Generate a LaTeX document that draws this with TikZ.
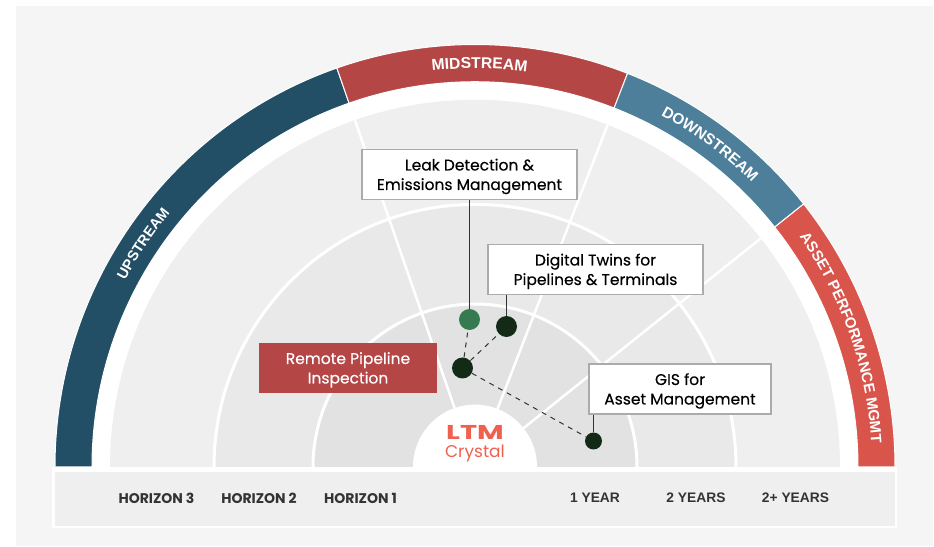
\documentclass[tikz,border=0pt]{standalone}
\usepackage{fontspec}
\setmainfont{Poppins}
\newfontfamily\medfont[FakeBold=0.3]{Poppins}
\newfontfamily\logofont[FakeStretch=1.45]{Poppins}
\newfontfamily\bandfont{Liberation Sans}
\usetikzlibrary{positioning, decorations.text}
\definecolor{pagegrey}{HTML}{F5F5F5}
\definecolor{ringone}{HTML}{E2E2E2}
\definecolor{ringtwo}{HTML}{E9E9E9}
\definecolor{ringthree}{HTML}{EFEFEF}
\definecolor{upstreamblue}{HTML}{224F66}
\definecolor{midstreamred}{HTML}{B54646}
\definecolor{downstreamblue}{HTML}{4D7F9A}
\definecolor{assetred}{HTML}{D9544A}
\definecolor{logored}{HTML}{F0604F}
\definecolor{dotdark}{HTML}{122A16}
\definecolor{dotgreen}{HTML}{367A52}
\definecolor{labeldark}{HTML}{333333}
\tikzset{
    bandsector/.style={draw=white, line width=1},
    spoke/.style={white, line width=2.5},
    ringedge/.style={draw=white, line width=3},
    whitebox/.style={draw=black!33, line width=1.2, fill=white, align=center, font=\medfont\fontsize{15.5}{19.5}\selectfont, text=black, inner sep=0, minimum height=50, text height=35pt, text depth=4pt},
    redbox/.style={fill=midstreamred, align=center, font=\medfont\fontsize{15.5}{19.5}\selectfont, text=white, inner sep=0, minimum height=50, minimum width=178, text height=35pt, text depth=4pt},
    axislabel/.style={font=\fontsize{14}{14}\selectfont\bfseries, text=labeldark, inner sep=0},
    yearlabel/.style={font=\bandfont\fontsize{13.8}{14}\selectfont\bfseries, text=labeldark, inner sep=0},
    bigdot/.style={circle, fill=dotdark, inner sep=0, minimum size=21},
    smalldot/.style={circle, fill=dotdark, inner sep=0, minimum size=17},
    leaderline/.style={labeldark, line width=1},
    dashline/.style={labeldark, line width=1, dash pattern=on 5 off 5},
    bandtext/.style 2 args={decorate, decoration={text along path, text align=center, text={|\bandfont\fontsize{#1}{#1}\selectfont\bfseries\color{white}|#2}}}
}
\begin{document}
\begin{tikzpicture}[x=1pt, y=1pt, semithick]
                \useasboundingbox (-475, -79) rectangle (459, 467);
                \fill[white] (-475, -79) rectangle (459, 467);
                \fill[pagegrey] (-459, -79) rectangle (458, 461);
                \begin{scope}[yscale=1.006]
                \fill[white] (-383, 0) arc[start angle=180, end angle=0, radius=383] -- cycle;
                \fill[ringthree] (-365, 0) arc[start angle=180, end angle=0, radius=365] -- cycle;
                \fill[ringtwo] (-261, 0) arc[start angle=180, end angle=0, radius=261] -- cycle;
                \fill[ringone] (-162, 0) arc[start angle=180, end angle=0, radius=162] -- cycle;
                \draw[ringedge] (-261, 0) arc[start angle=180, end angle=0, radius=261];
                \draw[ringedge] (-162, 0) arc[start angle=180, end angle=0, radius=162];
                \draw[spoke] (109.2:62) -- (109.2:365);
                \draw[spoke] (68.7:62) -- (68.7:365);
                \draw[spoke] (38.5:62) -- (38.5:365);
                \fill[white] (-62, 0) arc[start angle=180, end angle=0, radius=62] -- cycle;
                \filldraw[bandsector, fill=upstreamblue] (180:420) arc[start angle=180, end angle=109.2, radius=420] -- (109.2:383) arc[start angle=109.2, end angle=180, radius=383] -- cycle;
                \filldraw[bandsector, fill=midstreamred] (109.2:420) arc[start angle=109.2, end angle=68.7, radius=420] -- (68.7:383) arc[start angle=68.7, end angle=109.2, radius=383] -- cycle;
                \filldraw[bandsector, fill=downstreamblue] (68.7:420) arc[start angle=68.7, end angle=38.5, radius=420] -- (38.5:383) arc[start angle=38.5, end angle=68.7, radius=383] -- cycle;
                \filldraw[bandsector, fill=assetred] (38.5:420) arc[start angle=38.5, end angle=0, radius=420] -- (0:383) arc[start angle=0, end angle=38.5, radius=383] -- cycle;
                \path[bandtext={14.5}{UPSTREAM}] (170.2:396) arc[start angle=170.2, end angle=122.2, radius=396];
                \path[bandtext={15.7}{MIDSTREAM}] (105.35:396) arc[start angle=105.35, end angle=73.35, radius=396];
                \path[bandtext={15.4}{DOWNSTREAM}] (66.3:396) arc[start angle=66.3, end angle=41.3, radius=396];
                \path[bandtext={15}{ASSET PERFORMANCE MGMT}] (38.3:397) arc[start angle=38.3, end angle=0.3, radius=397];
                \end{scope}
                \fill[white] (-423, -60.5) rectangle (422, 0);
                \fill[ringthree] (-420, -59) rectangle (420, -5);
                \node[axislabel] (horizon3) at (-318.5, -31) {HORIZON 3};
                \node[axislabel] (horizon2) at (-216, -31) {HORIZON 2};
                \node[axislabel] (horizon1) at (-114.5, -31) {HORIZON 1};
                \node[yearlabel] (year1) at (120, -31) {1 YEAR};
                \node[yearlabel] (year2) at (221, -31) {2 YEARS};
                \node[yearlabel] (year3) at (320.5, -31) {2+ YEARS};
                \node[font=\logofont\fontsize{20}{20}\selectfont\bfseries, text=logored, inner sep=0] (ltm) at (0, 35) {LTM};
                \node[below=5 of ltm, font=\fontsize{17}{17}\selectfont, text=logored, inner sep=0] (crystal) {Crystal};
                \node[whitebox, minimum width=215] (leak) at (-5.5, 292.5) {Leak Detection \&\\Emissions Management};
                \node[whitebox, minimum width=215] (twins) at (120.5, 197.5) {Digital Twins for\\Pipelines \& Terminals};
                \node[whitebox, minimum width=182] (gis) at (205, 78) {GIS for\\Asset Management};
                \node[redbox] (remote) at (-127, 99) {Remote Pipeline\\Inspection};
                \node[bigdot, fill=dotgreen] (leakdot) at (-5.5, 147.5) {};
                \node[bigdot] (twinsdot) at (31.5, 140.5) {};
                \node[bigdot] (remotedot) at (-12.5, 99) {};
                \node[smalldot] (gisdot) at (118.5, 26) {};
                \draw[leaderline] (leak) -- (leakdot);
                \draw[leaderline] (twinsdot) -- (twinsdot |- twins.south);
                \draw[leaderline] (gisdot) -- (gisdot |- gis.south);
                \draw[dashline] (remotedot) -- (leakdot);
                \draw[dashline] (remotedot) -- (twinsdot);
                \draw[dashline] (remotedot) -- (gisdot);
            \end{tikzpicture}
\end{document}
